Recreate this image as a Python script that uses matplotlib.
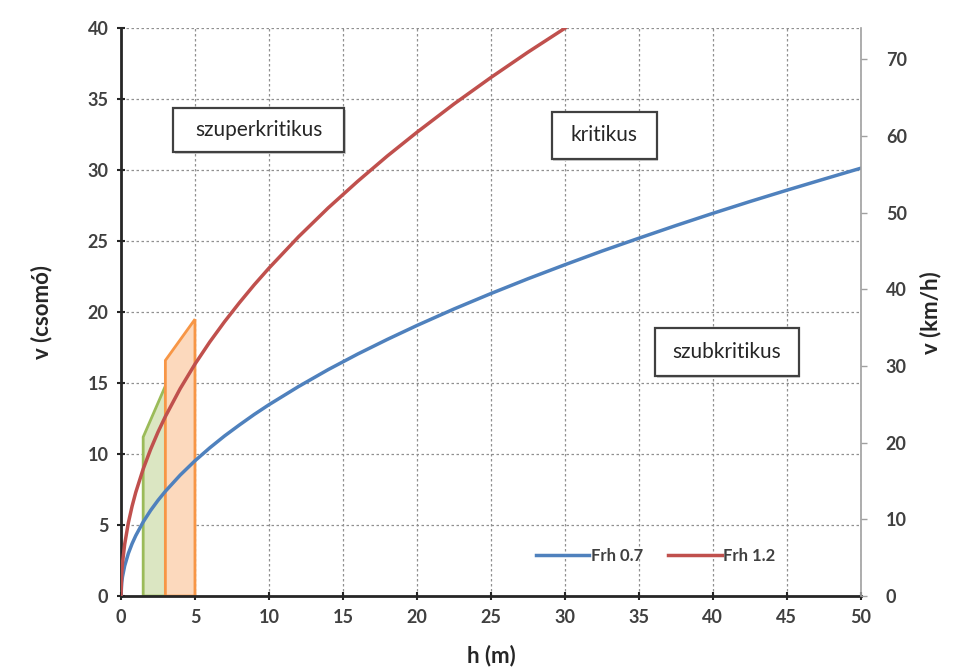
import matplotlib.pyplot as plt
from matplotlib.patches import Polygon, Rectangle

plt.rcParams['font.family'] = ['Lato', 'DejaVu Sans']

# values
h = [0, 0.05, 0.1, 0.25, 0.5, 0.75, 1, 1.5, 2, 2.5, 3, 4, 5, 6, 7, 8, 9, 10, 12, 14, 16, 18, 20,
     22.5, 25, 27.5, 30, 32.5, 35, 37.5, 40, 42.5, 45, 47.5, 50]
v_frh07 = [0, 0.95, 1.35, 2.13, 3.01, 3.69, 4.26, 5.22, 6.03, 6.74, 7.38, 8.52, 9.53, 10.44, 11.28,
           12.05, 12.79, 13.48, 14.76, 15.95, 17.05, 18.08, 19.06, 20.22, 21.31, 22.35, 23.34,
           24.30, 25.21, 26.10, 26.96, 27.79, 28.59, 29.37, 30.14]
h_red = [0, 0.05, 0.1, 0.25, 0.5, 0.75, 1, 1.5, 2, 2.5, 3, 4, 5, 6, 7, 8, 9, 10, 12, 14, 16, 18, 20,
         22.5, 25, 27.5, 30]
v_frh12 = [0, 1.63, 2.31, 3.65, 5.17, 6.33, 7.31, 8.95, 10.33, 11.55, 12.65, 14.61, 16.34, 17.90,
           19.33, 20.66, 21.92, 23.10, 25.31, 27.34, 29.22, 31.00, 32.67, 34.66, 36.53, 38.31, 40.0]

green_h = [1.5, 1.5, 3, 3]
green_v = [0, 11.2, 14.8, 0]
orange_h = [3, 3, 5, 5]
orange_v = [0, 16.6, 19.5, 0]

knot_to_kmh = 1.852

fig = plt.figure(figsize=(9.64, 6.72), dpi=100)
ax = fig.add_axes([0.1255, 0.113, 0.7675, 0.845])

ax.add_patch(Polygon(list(zip(green_h, green_v)), closed=True, facecolor='#dbe6c2',
                     edgecolor='#9bbb59', lw=2, zorder=2))
ax.add_patch(Polygon(list(zip(orange_h, orange_v)), closed=True, facecolor='#fcd9bd',
                     edgecolor='#f79646', lw=2, zorder=2))

ax.plot(h, v_frh07, color='#4f81bd', lw=2.5, label='Frh 0.7', zorder=3)
ax.plot(h_red, v_frh12, color='#c0504d', lw=2.5, label='Frh 1.2', zorder=3)

ax.set_xlim(0, 50)
ax.set_ylim(0, 40)
ax.set_xticks(range(0, 51, 5))
ax.set_yticks(range(0, 41, 5))
ax.grid(True, color='#909090', ls=(0, (2, 2)), lw=0.9)
ax.set_axisbelow(True)

for s in ['top', 'right']:
    ax.spines[s].set_visible(False)
for s in ['left', 'bottom']:
    ax.spines[s].set_linewidth(2)
    ax.spines[s].set_color('#262626')

ax.tick_params(direction='inout', length=6, width=1.5, colors='#262626', labelsize=13, pad=6)
for lab in ax.get_xticklabels() + ax.get_yticklabels():
    lab.set_fontweight('bold')
    lab.set_color('#404040')

ax.set_xlabel('h (m)', fontsize=16, fontweight='bold', color='#262626')
ax.set_ylabel('v (csomó)', fontsize=16, fontweight='bold', color='#262626')
ax.xaxis.set_label_coords(0.5, -0.085)
ax.yaxis.set_label_coords(-0.093, 0.5)

ax2 = ax.twinx()
ax2.set_ylim(0, 40 * knot_to_kmh)
ax2.set_yticks(range(0, 71, 10))
for s in ['top', 'left', 'bottom']:
    ax2.spines[s].set_visible(False)
ax2.spines['right'].set_color('#a0a0a0')
ax2.spines['right'].set_linewidth(1.2)
ax2.tick_params(direction='out', length=4, width=1, colors='#a0a0a0', labelcolor='#404040',
                labelsize=13, pad=14)
for lab in ax2.get_yticklabels():
    lab.set_fontweight('bold')
ax2.set_ylabel('v (km/h)', fontsize=16, fontweight='bold', color='#262626')
ax2.yaxis.set_label_coords(1.08, 0.5)

# region labels in framed boxes
boxes = [('szuperkritikus', 3.5, 31.3, 11.6, 3.1),
         ('kritikus', 29.1, 30.8, 7.1, 3.3),
         ('szubkritikus', 36.1, 15.5, 9.7, 3.4)]
for txt, x0, y0, w, hh in boxes:
    ax.add_patch(Rectangle((x0 + 0.12, y0 - 0.15), w, hh, facecolor='#d0d0d0', edgecolor='none', zorder=4))
    ax.add_patch(Rectangle((x0, y0), w, hh, facecolor='white', edgecolor='#404040', lw=1.6, zorder=5))
    ax.text(x0 + w / 2, y0 + hh / 2, txt, fontsize=15, ha='center', va='center', color='#262626', zorder=6)

leg = ax.legend(loc='lower right', bbox_to_anchor=(0.905, 0.03), ncol=2, frameon=False,
                fontsize=12, handlelength=3.2, handletextpad=0.1, columnspacing=1.5)
for t in leg.get_texts():
    t.set_fontweight('bold')
    t.set_color('#404040')

fig.savefig('out.png', dpi=100)
